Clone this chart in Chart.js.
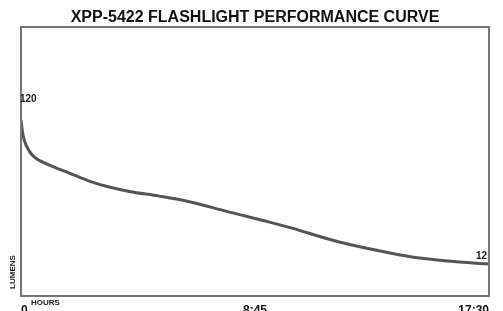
<!DOCTYPE html>
<html>
<head>
<meta charset="utf-8">
<script src="https://cdn.jsdelivr.net/npm/chart.js@4"></script>
<style>
  html, body { margin: 0; padding: 0; background: #fff; }
  #canvas { display: block; }
</style>
</head>
<body>
<canvas id="canvas" width="503" height="311"></canvas>
<script>
// readings
const hours = [0, 0.05, 0.12, 0.31, 0.5, 1.06, 1.81, 2.55, 3.3, 4.05, 5.17, 6.29, 7.79, 9.29, 10.03, 11.9, 13.8, 14.9, 16.4, 17.5];
const lumens = [120, 112, 105, 96.8, 92.3, 86.3, 80.3, 74.3, 69.8, 66.5, 63, 58.8, 51, 43.5, 39.5, 28.5, 20.3, 16.5, 13.5, 12];
const tickHours = [0, 8.75, 17.5];
const tickLabels = ["0", "8:45", "17:30"];
const titleText = "XPP-5422 FLASHLIGHT PERFORMANCE CURVE";
const endLabels = ["120", "12"];

const canvas = document.querySelector("#canvas");
const FONT = "'Liberation Sans', Arial, sans-serif";

const framePlugin = {
  id: "frame",
  afterDraw(chart) {
    const { ctx, chartArea: a } = chart;
    ctx.save();
    ctx.strokeStyle = "#777";
    ctx.lineWidth = 2;
    ctx.strokeRect(a.left, a.top, a.right - a.left, a.bottom - a.top);

    // end labels
    const pts = chart.getDatasetMeta(0).data;
    const first = pts[0];
    const last = pts[pts.length - 1];
    ctx.fillStyle = "#222";
    ctx.font = "bold 10px " + FONT;
    ctx.textBaseline = "bottom";
    ctx.textAlign = "left";
    ctx.fillText(endLabels[0], first.x - 1, first.y - 16);
    ctx.textAlign = "right";
    ctx.fillText(endLabels[1], last.x - 2, last.y - 3);

    // axis captions
    ctx.font = "bold 8px " + FONT;
    ctx.textAlign = "left";
    ctx.textBaseline = "middle";
    ctx.fillText("HOURS", a.left + 10, a.bottom + 7);
    ctx.translate(12.5, 272);
    ctx.rotate(-Math.PI / 2);
    ctx.textAlign = "center";
    ctx.fillText("LUMENS", 0, 0);
    ctx.restore();
  },
};

const config = {
  type: "line",
  data: {
    datasets: [
      {
        data: hours.map((h, i) => ({ x: h, y: lumens[i] })),
        borderColor: "#555",
        borderWidth: 3,
        pointRadius: 0,
        cubicInterpolationMode: "monotone",
        fill: false,
      },
    ],
  },
  options: {
    responsive: false,
    animation: false,
    layout: { padding: { left: 21, right: 14, top: 0, bottom: 0 } },
    plugins: {
      legend: { display: false },
      tooltip: { enabled: false },
      title: {
        display: true,
        text: titleText,
        color: "#111",
        font: { family: FONT, size: 16, weight: "bold", lineHeight: 1 },
        padding: { top: 10, bottom: 1 },
      },
    },
    scales: {
      x: {
        type: "linear",
        min: 0,
        max: 17.5,
        grid: { display: false, drawTicks: false },
        border: { display: false },
        afterBuildTicks: (scale) => {
          scale.ticks = tickHours.map((v) => ({ value: v }));
        },
        afterFit: (scale) => {
          scale.height = 15;
        },
        ticks: {
          autoSkip: false,
          maxRotation: 0,
          align: "inner",
          padding: 7,
          color: "#111",
          font: { family: FONT, size: 12, weight: "bold" },
          callback: (v) => tickLabels[tickHours.indexOf(v)],
        },
      },
      y: {
        display: false,
        min: -12,
        max: 190,
      },
    },
  },
  plugins: [framePlugin],
};

new Chart(canvas.getContext("2d"), config);
</script>
</body>
</html>
